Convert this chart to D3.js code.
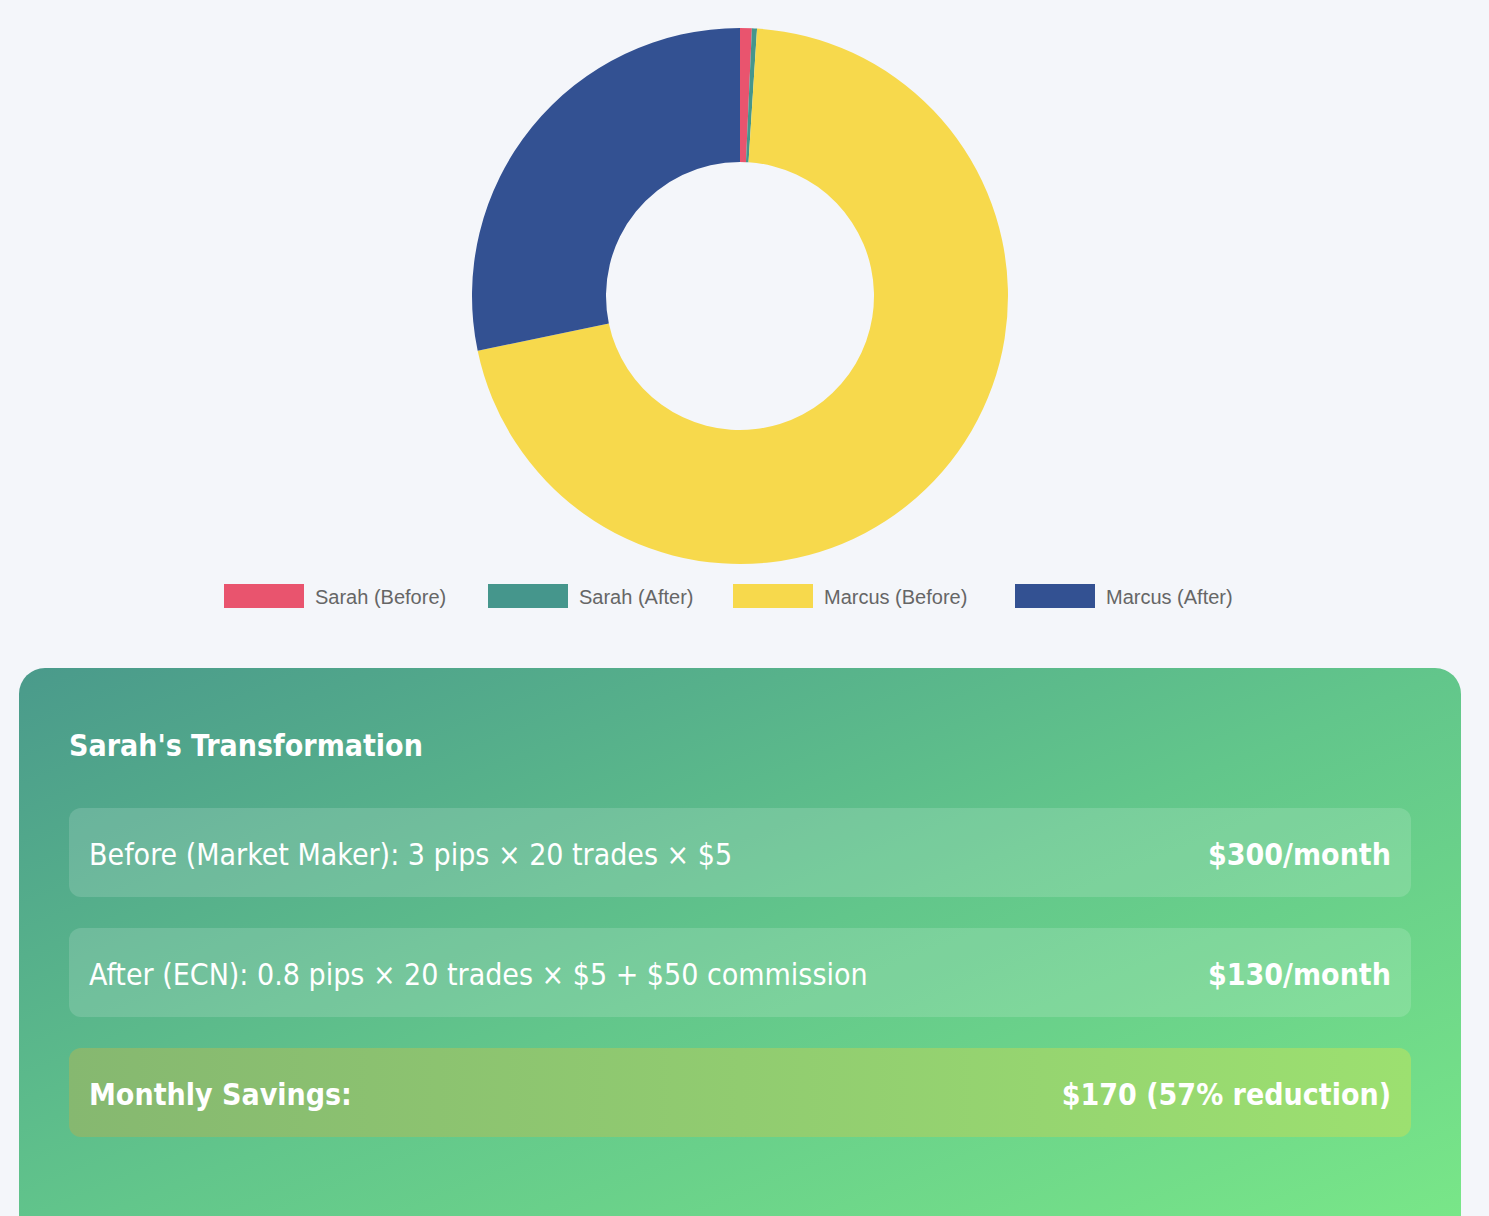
<!DOCTYPE html>
<html><head><meta charset="utf-8">
<script src="https://cdn.jsdelivr.net/npm/d3@7"></script>
<style>body{margin:0;background:#f4f6fa;}</style>
</head><body><div id="chart"></div>
<script>
var labels = ["Sarah (Before)", "Sarah (After)", "Marcus (Before)", "Marcus (After)"];
var values = [300, 130, 30000, 12000];
var colors = ["#e9546e", "#45968c", "#f7d94c", "#335192"];
var rowLabels = ["Before (Market Maker): 3 pips × 20 trades × $5", "After (ECN): 0.8 pips × 20 trades × $5 + $50 commission", "Monthly Savings:"];
var rowValues = ["$300/month", "$130/month", "$170 (57% reduction)"];

var width = 1489, height = 1216;
var svg = d3.select("#chart").append("svg").attr("width", width).attr("height", height);
var defs = svg.append("defs");

// donut
var pie = d3.pie().sort(null);
var arc = d3.arc().innerRadius(134).outerRadius(268);
svg.append("g").attr("transform", "translate(740,296)")
  .selectAll("path").data(pie(values)).enter().append("path")
  .attr("d", arc).attr("fill", function(d, i){ return colors[i]; });

// legend
var legX = [224, 488, 733, 1015];
var leg = svg.selectAll(".leg").data(labels).enter().append("g")
  .attr("transform", function(d, i){ return "translate(" + legX[i] + ",584)"; });
leg.append("rect").attr("width", 80).attr("height", 24).attr("fill", function(d, i){ return colors[i]; });
leg.append("text").attr("x", 91).attr("y", 20).attr("fill", "#666")
  .style("font", "20px 'Liberation Sans', Arial, sans-serif").text(function(d){ return d; });

// card
var g1 = defs.append("linearGradient").attr("id", "card").attr("x1", "0").attr("y1", "0").attr("x2", "1").attr("y2", "1");
g1.append("stop").attr("offset", "0").attr("stop-color", "#4a9a8b");
g1.append("stop").attr("offset", "0.5").attr("stop-color", "#62c68b");
g1.append("stop").attr("offset", "1").attr("stop-color", "#7ae888");
svg.append("rect").attr("x", 19).attr("y", 668).attr("width", 1442).attr("height", 580).attr("rx", 26).attr("fill", "url(#card)");
svg.append("text").attr("x", 69).attr("y", 756).attr("fill", "#fff")
  .style("font", "bold 30px 'DejaVu Sans Condensed', 'DejaVu Sans', sans-serif").text("Sarah's Transformation");

var g2 = defs.append("linearGradient").attr("id", "save").attr("x1", "0").attr("x2", "1");
g2.append("stop").attr("offset", "0").attr("stop-color", "#86b870");
g2.append("stop").attr("offset", "1").attr("stop-color", "#9ce070");

var rows = svg.selectAll(".row").data(rowLabels).enter().append("g")
  .attr("transform", function(d, i){ return "translate(69," + (808 + i * 120) + ")"; });
rows.append("rect").attr("width", 1342).attr("height", 89).attr("rx", 12)
  .attr("fill", function(d, i){ return i == 2 ? "url(#save)" : "rgba(255,255,255,0.15)"; });
rows.append("text").attr("x", 20).attr("y", 57).attr("fill", "#fff")
  .style("font", function(d, i){ return (i == 2 ? "bold " : "") + "30px 'DejaVu Sans Condensed', 'DejaVu Sans', sans-serif"; })
  .text(function(d){ return d; });
rows.append("text").attr("x", 1322).attr("y", 57).attr("fill", "#fff").attr("text-anchor", "end")
  .style("font", "bold 30px 'DejaVu Sans Condensed', 'DejaVu Sans', sans-serif")
  .text(function(d, i){ return rowValues[i]; });
</script></body></html>
